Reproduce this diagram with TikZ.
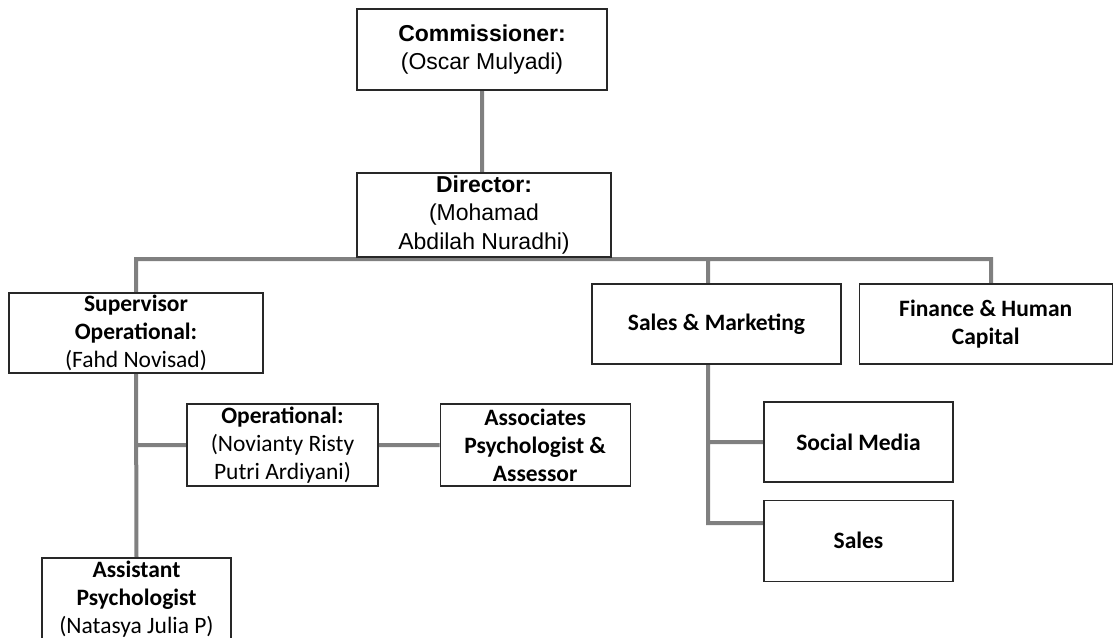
\documentclass[tikz,border=0pt]{standalone}
\usepackage{fontspec}
\setmainfont{Carlito}
\newfontfamily\arialfont{Liberation Sans}
\usetikzlibrary{positioning,backgrounds}
\definecolor{linkgray}{RGB}{128,128,128}
\definecolor{boxline}{RGB}{40,40,40}

\begin{document}
\begin{tikzpicture}[x=1pt,y=-1pt,% coordinates read as pixels, y going down
			every node/.style={
				align=center,		% so that "\\" breaks the lines
				inner sep=0pt
			},
			orgbox/.style={rectangle,draw=boxline,line width=1.2pt,fill=white,
				font=\fontsize{23.5}{28}\selectfont},
			arialbox/.style={orgbox,font=\arialfont\fontsize{23}{28.5}\selectfont},
			link/.style={draw=linkgray,line width=4pt}
		]
		\useasboundingbox (0,0) rectangle (1113,637);
		% top of the tree
		\node[arialbox,minimum width=250pt,minimum height=81pt](Comm) at (482,49.5){\textbf{Commissioner:}\\(Oscar Mulyadi)};
		\node[arialbox,minimum width=254pt,minimum height=84pt](Dir) at (484,215){\textbf{Director:}\\(Mohamad\\Abdilah Nuradhi)};
		% second row
		\node[orgbox,minimum width=254pt,minimum height=80pt](Sup) at (136,333){\textbf{Supervisor}\\\textbf{Operational:}\\(Fahd Novisad)};
		\node[orgbox,minimum width=249pt,minimum height=80pt](SM) at (716.5,324){\textbf{Sales \& Marketing}};
		\node[orgbox,minimum width=253pt,minimum height=80pt](Fin)[right=17pt of SM]{\textbf{Finance \& Human}\\\textbf{Capital}};
		% below the supervisor
		\node[orgbox,minimum width=191pt,minimum height=82pt](Op) at (282.5,445){\textbf{Operational:}\\(Novianty Risty\\Putri Ardiyani)};
		\node[orgbox,minimum width=190pt,minimum height=82pt](Assoc)[right=61pt of Op]{\textbf{Associates}\\\textbf{Psychologist \&}\\\textbf{Assessor}};
		\node[orgbox,minimum width=189pt,minimum height=82pt](Asst) at (136.5,599){\textbf{Assistant}\\\textbf{Psychologist}\\(Natasya Julia P)};
		% below sales & marketing
		\node[orgbox,minimum width=189pt,minimum height=80pt](Soc) at (858.5,442){\textbf{Social Media}};
		\node[orgbox,minimum width=189pt,minimum height=81pt](Sales)[below=17pt of Soc]{\textbf{Sales}};
		\coordinate (Bus) at (0,259);
		\begin{scope}[on background layer]
		\path[link]
		(Comm) -- (Comm |- Dir.north)
		(Sup.north) -- (Sup.north |- Bus) -| ([xshift=5.5pt]Fin.north)
		([xshift=-8.5pt]SM.north) -- ([xshift=-8.5pt]SM.north |- Bus)
		(Sup.south) -- (Asst.north)
		(Op.west) -- (Op.west -| Sup.south)
		(Op.east) -- (Assoc.west)
		([xshift=-8.5pt]SM.south) |- (Soc.west)
		([xshift=-8.5pt]SM.south) |- ([yshift=17.5pt]Sales.west)
		;
		\end{scope}
	\end{tikzpicture}
\end{document}
